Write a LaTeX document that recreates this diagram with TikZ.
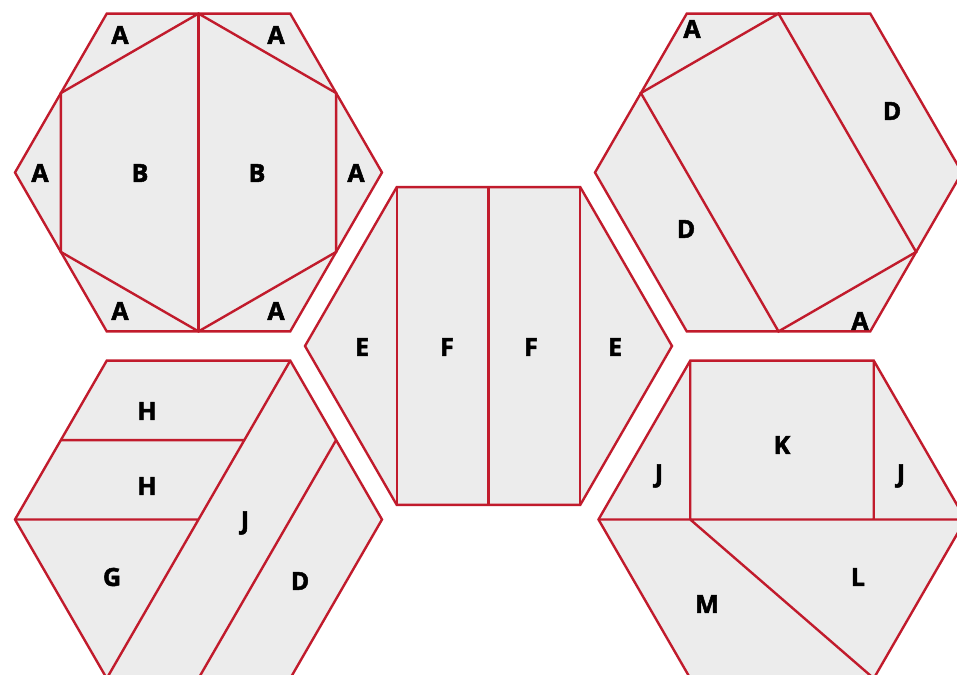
\documentclass[tikz,border=0pt]{standalone}
\usepackage{fontspec}
\setmainfont{Open Sans}
\newfontfamily\lblfont[BoldFeatures={FakeBold=2}]{Open Sans}
\definecolor{edge}{RGB}{193,27,44}
\definecolor{piece}{RGB}{236,236,236}
\tikzset{
  hexa/.style={fill=piece,draw=edge,line width=2.4pt},
  cut/.style={draw=edge,line width=2.4pt},
  lbl/.style={font=\lblfont\bfseries\fontsize{25}{25}\selectfont,text=black,inner sep=0pt}
}
\newcommand{\hexpath}[2]{(#1+183.5,#2) -- (#1+91.75,#2+158.9) -- (#1-91.75,#2+158.9) -- (#1-183.5,#2) -- (#1-91.75,#2-158.9) -- (#1+91.75,#2-158.9) -- cycle}
\begin{document}
\begin{tikzpicture}[x=1pt,y=-1pt]
\useasboundingbox (0,0) rectangle (957,674);
\clip (0,0) rectangle (957,674);
% hexagon 1 (top left)
\draw[hexa] \hexpath{198.5}{172.5};
\coordinate (a1) at (198.5,13.6);
\coordinate (a2) at (60.9,93.05);
\coordinate (a3) at (60.9,251.95);
\coordinate (a4) at (198.5,331.4);
\coordinate (a5) at (336.1,251.95);
\coordinate (a6) at (336.1,93.05);
\draw[cut] (a1) -- (a2) -- (a3) -- (a4) -- (a5) -- (a6) -- cycle;
\draw[cut] (a1) -- (a4);
\node[lbl] (t1) at (120,35) {A};
\node[lbl] (t2) at (276,35) {A};
\node[lbl] (t3) at (40,173) {A};
\node[lbl] (t4) at (140,173) {B};
\node[lbl] (t5) at (257,173) {B};
\node[lbl] (t6) at (356,173) {A};
\node[lbl] (t7) at (120,311) {A};
\node[lbl] (t8) at (276,311) {A};
% hexagon 2 (top right)
\draw[hexa] \hexpath{778.5}{172.5};
\coordinate (b1) at (778.5,13.6);
\coordinate (b2) at (640.9,93.05);
\coordinate (b3) at (778.5,331.4);
\coordinate (b4) at (916.1,251.95);
\draw[cut] (b1) -- (b2) -- (b3) -- (b4) -- cycle;
\node[lbl] (u1) at (692,29) {A};
\node[lbl] (u2) at (892,111) {D};
\node[lbl] (u3) at (686,229) {D};
\node[lbl] (u4) at (860,321) {A};
% hexagon 3 (middle)
\draw[hexa] \hexpath{488.5}{346};
\coordinate (c1) at (396.75,187.1);
\coordinate (c2) at (396.75,504.9);
\coordinate (c3) at (488.5,187.1);
\coordinate (c4) at (488.5,504.9);
\coordinate (c5) at (580.25,187.1);
\coordinate (c6) at (580.25,504.9);
\draw[cut] (c1) -- (c2) (c3) -- (c4) (c5) -- (c6);
\node[lbl] (v1) at (362,347) {E};
\node[lbl] (v2) at (447,347) {F};
\node[lbl] (v3) at (531,347) {F};
\node[lbl] (v4) at (615,347) {E};
% hexagon 4 (bottom left)
\draw[hexa] \hexpath{198.5}{519.5};
\coordinate (d1) at (60.9,440.05);
\coordinate (d2) at (244.4,440.05);
\coordinate (d3) at (15,519.5);
\coordinate (d4) at (198.5,519.5);
\coordinate (d5) at (290.25,360.6);
\coordinate (d6) at (106.75,678.4);
\coordinate (d7) at (336.1,440.05);
\coordinate (d8) at (198.5,678.4);
\draw[cut] (d1) -- (d2) (d3) -- (d4) (d5) -- (d6) (d7) -- (d8);
\node[lbl] (w1) at (147,411) {H};
\node[lbl] (w2) at (147,486) {H};
\node[lbl] (w3) at (245,523) {J};
\node[lbl] (w4) at (112,577) {G};
\node[lbl] (w5) at (300,581) {D};
% hexagon 5 (bottom right)
\draw[hexa] \hexpath{782}{519.5};
\coordinate (e1) at (690.25,360.6);
\coordinate (e2) at (690.25,519.5);
\coordinate (e3) at (873.75,360.6);
\coordinate (e4) at (873.75,519.5);
\coordinate (e5) at (598.5,519.5);
\coordinate (e6) at (965.5,519.5);
\coordinate (e7) at (873.75,678.4);
\draw[cut] (e1) -- (e2) (e3) -- (e4) (e5) -- (e6) (e2) -- (e7);
\node[lbl] (x1) at (659,476) {J};
\node[lbl] (x2) at (782,445) {K};
\node[lbl] (x3) at (901,476) {J};
\node[lbl] (x4) at (858,577) {L};
\node[lbl] (x5) at (707,604) {M};
\end{tikzpicture}
\end{document}
